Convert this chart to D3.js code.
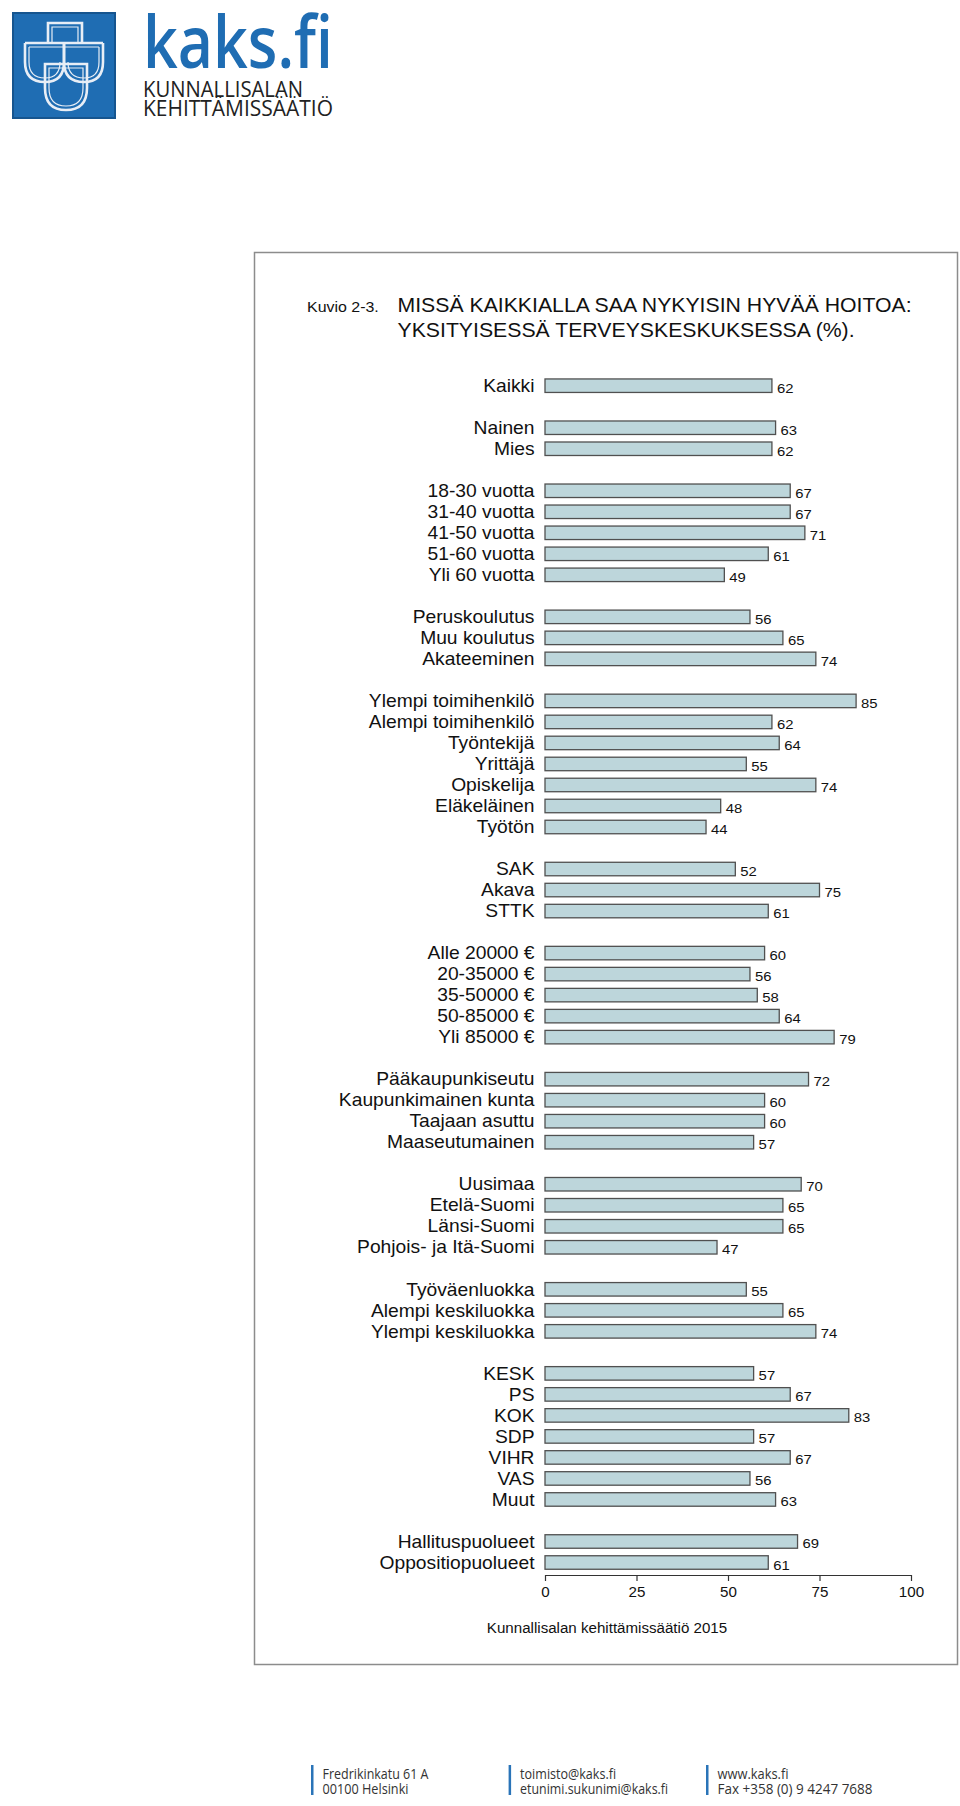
<!DOCTYPE html>
<html>
<head>
<meta charset="utf-8">
<script src="https://cdn.jsdelivr.net/npm/d3@7"></script>
<style>
body { margin: 0; background: #fff; }
text { font-family: "Liberation Sans", Arial, sans-serif; }
</style>
</head>
<body>
<div id="chart"></div>
<script>
var categories = [
    "Kaikki",
    "Nainen", "Mies",
    "18-30 vuotta", "31-40 vuotta", "41-50 vuotta", "51-60 vuotta", "Yli 60 vuotta",
    "Peruskoulutus", "Muu koulutus", "Akateeminen",
    "Ylempi toimihenkilö", "Alempi toimihenkilö", "Työntekijä", "Yrittäjä", "Opiskelija", "Eläkeläinen", "Työtön",
    "SAK", "Akava", "STTK",
    "Alle 20000 €", "20-35000 €", "35-50000 €", "50-85000 €", "Yli 85000 €",
    "Pääkaupunkiseutu", "Kaupunkimainen kunta", "Taajaan asuttu", "Maaseutumainen",
    "Uusimaa", "Etelä-Suomi", "Länsi-Suomi", "Pohjois- ja Itä-Suomi",
    "Työväenluokka", "Alempi keskiluokka", "Ylempi keskiluokka",
    "KESK", "PS", "KOK", "SDP", "VIHR", "VAS", "Muut",
    "Hallituspuolueet", "Oppositiopuolueet"
];
var values = [
    62,
    63, 62,
    67, 67, 71, 61, 49,
    56, 65, 74,
    85, 62, 64, 55, 74, 48, 44,
    52, 75, 61,
    60, 56, 58, 64, 79,
    72, 60, 60, 57,
    70, 65, 65, 47,
    55, 65, 74,
    57, 67, 83, 57, 67, 56, 63,
    69, 61
];
var groupSizes = [1, 2, 5, 3, 7, 3, 5, 4, 4, 3, 7, 2];
var xTicks = [0, 25, 50, 75, 100];
var figNumber = "Kuvio 2-3.";
var titleLines = ["MISSÄ KAIKKIALLA SAA NYKYISIN HYVÄÄ HOITOA:", "YKSITYISESSÄ TERVEYSKESKUKSESSA (%)."];
var sourceText = "Kunnallisalan kehittämissäätiö 2015";
var footerLines = [
    ["Fredrikinkatu 61 A", "00100 Helsinki"],
    ["toimisto@kaks.fi", "etunimi.sukunimi@kaks.fi"],
    ["www.kaks.fi", "Fax +358 (0) 9 4247 7688"]
];

let width = 960, height = 1806;
let svg = d3.select("#chart").append("svg")
    .attr("width", width)
    .attr("height", height);

// --- logo ---
let logo = svg.append("g");
logo.append("rect")
    .attr("x", 13).attr("y", 13).attr("width", 102).attr("height", 105)
    .attr("fill", "#1f6db3").attr("stroke", "#16558f").attr("stroke-width", 2);
let shapes = [
    "M48,43 V23 H82 V43",
    "M25,43 H103",
    "M25,43 V62 Q25,82 45,82 Q64,82 64,62 V43",
    "M64,43 V62 Q64,82 84,82 Q103,82 103,62 V43",
    "M45,64 H87 V88 Q87,110 66,110 Q45,110 45,88 Z"
];
let inner = [
    "M52,43 V27 H78 V43",
    "M29,47 H99",
    "M29,47 V62 Q29,78 45,78 Q60,78 60,62",
    "M68,62 Q68,78 84,78 Q99,78 99,62 V47",
    "M49,68 H83 V88 Q83,106 66,106 Q49,106 49,88 Z"
];
logo.selectAll("path.outer").data(shapes).enter().append("path")
    .attr("d", d => d).attr("fill", "none")
    .attr("stroke", "#e8eef6").attr("stroke-width", 2.6);
logo.selectAll("path.inner").data(inner).enter().append("path")
    .attr("d", d => d).attr("fill", "none")
    .attr("stroke", "#e8eef6").attr("stroke-width", 1.2);

logo.append("text")
    .attr("x", 143).attr("y", 68)
    .attr("font-size", 72)
    .attr("font-weight", 600)
    .attr("textLength", 190).attr("lengthAdjust", "spacingAndGlyphs")
    .attr("fill", "#1f6db3")
    .style("font-family", "'Open Sans', sans-serif")
    .text("kaks.fi");
logo.append("text")
    .attr("x", 143).attr("y", 97)
    .attr("font-size", 21)
    .attr("textLength", 160).attr("lengthAdjust", "spacingAndGlyphs")
    .attr("fill", "#222")
    .style("font-family", "'Open Sans', sans-serif")
    .text("KUNNALLISALAN");
logo.append("text")
    .attr("x", 143).attr("y", 116)
    .attr("font-size", 21)
    .attr("textLength", 190).attr("lengthAdjust", "spacingAndGlyphs")
    .attr("fill", "#222")
    .style("font-family", "'Open Sans', sans-serif")
    .text("KEHITTÄMISSÄÄTIÖ");

// --- frame ---
svg.append("rect")
    .attr("x", 254.5).attr("y", 252.5)
    .attr("width", 703).attr("height", 1412)
    .attr("fill", "none")
    .attr("stroke", "#8c8c8c")
    .attr("stroke-width", 1.5);

// --- titles ---
svg.append("text")
    .attr("transform", "translate(307,311.7) scale(1.1,1)")
    .attr("font-size", 14.5)
    .attr("fill", "#111")
    .text(figNumber);
svg.selectAll("text.title").data(titleLines).enter().append("text")
    .attr("class", "title")
    .attr("transform", (d, i) => "translate(397.5," + (311.7 + i * 25) + ") scale(1.09,1)")
    .attr("font-size", 19.5)
    .attr("fill", "#111")
    .text(d => d);

// --- rows ---
let slots = [], rows = [];
let k = 0;
groupSizes.forEach((n, g) => {
    if (g > 0) slots.push("gap" + g);
    for (let i = 0; i < n; i++) {
        slots.push("r" + k);
        rows.push({ id: "r" + k, label: categories[k], value: values[k] });
        k++;
    }
});

let xScale = d3.scaleLinear().domain([0, 100]).range([545, 911]);
let yScale = d3.scalePoint().domain(slots).range([385.7, 1562.5]);
let barH = 13.5;

let bars = svg.append("g");
bars.selectAll("rect").data(rows).enter().append("rect")
    .attr("x", xScale(0))
    .attr("y", d => yScale(d.id) - barH / 2)
    .attr("width", d => xScale(d.value) - xScale(0))
    .attr("height", barH)
    .attr("fill", "#bdd6db")
    .attr("stroke", "#505050")
    .attr("stroke-width", 1.3);

bars.selectAll("text.lab").data(rows).enter().append("text")
    .attr("class", "lab")
    .attr("transform", d => "translate(534.5," + (yScale(d.id) + 6.2) + ") scale(1.1,1)")
    .attr("text-anchor", "end")
    .attr("font-size", 17.5)
    .attr("fill", "#111")
    .text(d => d.label);

bars.selectAll("text.val").data(rows).enter().append("text")
    .attr("class", "val")
    .attr("transform", d => "translate(" + (xScale(d.value) + 5) + "," + (yScale(d.id) + 7) + ") scale(1.1,1)")
    .attr("font-size", 13.5)
    .attr("fill", "#111")
    .text(d => d.value);

// --- axis ---
let xAxis = d3.axisBottom(xScale).tickValues(xTicks).tickSize(6).tickSizeOuter(0);
let ax = svg.append("g")
    .attr("transform", "translate(0,1575)")
    .call(xAxis);
ax.attr("font-family", null);
ax.select(".domain").attr("stroke", "#333").attr("stroke-width", 1.2);
ax.selectAll(".tick line").attr("stroke", "#333").attr("stroke-width", 1.2);
ax.selectAll(".tick text")
    .attr("y", 12)
    .attr("font-size", 13.8)
    .attr("fill", "#111")
    .attr("transform", "scale(1.1,1)");

svg.append("text")
    .attr("transform", "translate(607,1633.3) scale(1.08,1)")
    .attr("text-anchor", "middle")
    .attr("font-size", 14)
    .attr("fill", "#111")
    .text(sourceText);

// --- footer ---
let footX = [311, 508.6, 706];
let foot = svg.append("g");
footerLines.forEach((col, i) => {
    foot.append("rect")
        .attr("x", footX[i]).attr("y", 1765)
        .attr("width", 2.5).attr("height", 30)
        .attr("fill", "#2a74b8");
    col.forEach((line, j) => {
        foot.append("text")
            .attr("x", footX[i] + 11.5)
            .attr("y", 1778.5 + j * 15)
            .attr("font-size", 14.5)
            .attr("fill", "#333")
            .style("font-family", "'Open Sans', sans-serif")
            .attr("textLength", [[106, 86], [96, 148], [71, 155]][i][j])
            .attr("lengthAdjust", "spacingAndGlyphs")
            .text(line);
    });
});
</script>
</body>
</html>
